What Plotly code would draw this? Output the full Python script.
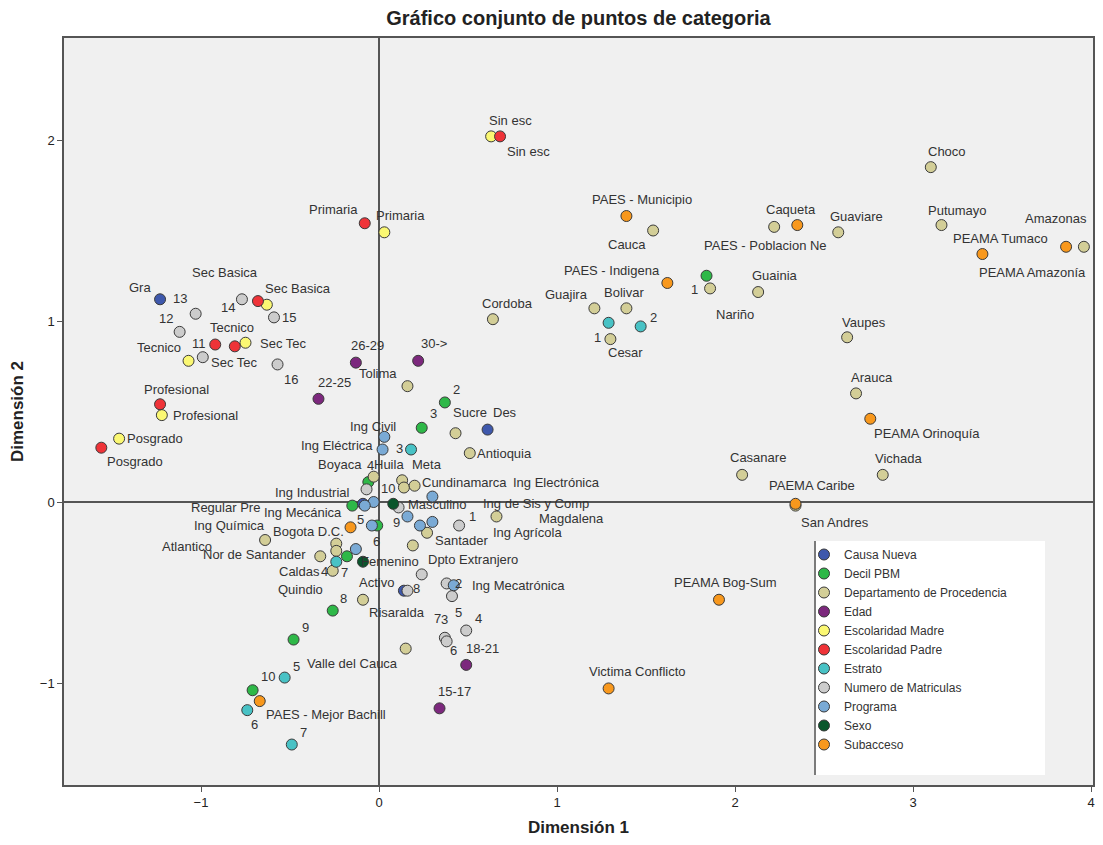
import plotly.graph_objects as go

# ---------------- data (Dimension 1, Dimension 2) ----------------
causa_cat = ["Regular Pre", "Gra", "Des", "Activo"]
causa_d1 = [-0.09, -1.23, 0.61, 0.14]
causa_d2 = [-0.01, 1.12, 0.40, -0.49]

decil_cat = ["1", "2", "3", "4", "5", "6", "7", "8", "9", "10"]
decil_d1 = [1.84, 0.37, 0.24, -0.06, -0.15, -0.01, -0.18, -0.26, -0.48, -0.71]
decil_d2 = [1.25, 0.55, 0.41, 0.11, -0.02, -0.13, -0.30, -0.60, -0.76, -1.04]

dept_cat = ["Choco", "Putumayo", "Amazonas", "Guaviare", "Caqueta", "Guainia", "Nariño",
            "Vaupes", "Arauca", "Vichada", "Casanare", "San Andres", "Cauca", "Bolivar",
            "Guajira", "Cordoba", "Cesar", "Tolima", "Sucre", "Antioquia", "Boyaca", "Huila",
            "Meta", "Cundinamarca", "Santader", "Magdalena", "Dpto Extranjero", "Bogota D.C.",
            "Atlantico", "Nor de Santander", "Caldas", "Quindio", "Risaralda", "Valle del Cauca"]
dept_d1 = [3.10, 3.16, 3.96, 2.58, 2.22, 2.13, 1.86, 2.63, 2.68, 2.83, 2.04, 2.34, 1.54, 1.39,
           1.21, 0.64, 1.30, 0.16, 0.43, 0.51, -0.03, 0.13, 0.14, 0.20, 0.27, 0.66, 0.19, -0.24,
           -0.64, -0.33, -0.26, -0.24, -0.09, 0.15]
dept_d2 = [1.85, 1.53, 1.41, 1.49, 1.52, 1.16, 1.18, 0.91, 0.60, 0.15, 0.15, -0.02, 1.50, 1.07,
           1.07, 1.01, 0.90, 0.64, 0.38, 0.27, 0.14, 0.12, 0.08, 0.09, -0.17, -0.08, -0.24, -0.23,
           -0.21, -0.30, -0.38, -0.27, -0.54, -0.81]

edad_cat = ["15-17", "18-21", "22-25", "26-29", "30->"]
edad_d1 = [0.34, 0.49, -0.34, -0.13, 0.22]
edad_d2 = [-1.14, -0.90, 0.57, 0.77, 0.78]

madre_cat = ["Sin esc", "Primaria", "Sec Basica", "Sec Tec", "Tecnico", "Profesional", "Posgrado"]
madre_d1 = [0.63, 0.03, -0.63, -0.75, -1.07, -1.22, -1.46]
madre_d2 = [2.02, 1.49, 1.09, 0.88, 0.78, 0.48, 0.35]

padre_cat = ["Sin esc", "Primaria", "Sec Basica", "Tecnico", "Sec Tec", "Profesional", "Posgrado"]
padre_d1 = [0.68, -0.08, -0.68, -0.92, -0.81, -1.23, -1.56]
padre_d2 = [2.02, 1.54, 1.11, 0.87, 0.86, 0.54, 0.30]

estrato_cat = ["1", "2", "3", "4", "5", "6", "7"]
estrato_d1 = [1.29, 1.47, 0.18, -0.24, -0.53, -0.74, -0.49]
estrato_d2 = [0.99, 0.97, 0.29, -0.33, -0.97, -1.15, -1.34]

matric_cat = ["1", "2", "3", "4", "5", "6", "7", "8", "9", "10", "11", "12", "13", "14", "15", "16"]
matric_d1 = [0.45, 0.38, 0.37, 0.49, 0.41, 0.38, 0.24, 0.16, 0.11, -0.07, -0.99, -1.12, -1.03,
             -0.77, -0.59, -0.57]
matric_d2 = [-0.13, -0.45, -0.75, -0.71, -0.52, -0.77, -0.40, -0.49, -0.03, 0.07, 0.80, 0.94,
             1.04, 1.12, 1.02, 0.76]

prog_cat = ["Ing Civil", "Ing Eléctrica", "Ing Industrial", "Ing Mecánica", "Ing Química",
            "Ing Electrónica", "Ing de Sis y Comp", "Ing Agrícola", "Ing Mecatrónica", "", ""]
prog_d1 = [0.03, 0.02, -0.03, -0.08, -0.04, 0.30, 0.23, 0.30, 0.42, 0.16, -0.13]
prog_d2 = [0.36, 0.29, 0.00, -0.02, -0.13, 0.03, -0.13, -0.11, -0.46, -0.08, -0.26]

sexo_cat = ["Masculino", "Femenino"]
sexo_d1 = [0.08, -0.09]
sexo_d2 = [-0.01, -0.33]

sub_cat = ["PAES - Municipio", "PAES - Indigena", "PAES - Poblacion Ne", "PAES - Mejor Bachill",
           "PEAMA Tumaco", "PEAMA Amazonía", "PEAMA Orinoquía", "PAEMA Caribe", "PEAMA Bog-Sum",
           "Victima Conflicto", ""]
sub_d1 = [1.39, 1.62, 2.35, -0.67, 3.86, 3.39, 2.76, 2.34, 1.91, 1.29, -0.16]
sub_d2 = [1.58, 1.21, 1.53, -1.10, 1.41, 1.37, 0.46, -0.01, -0.54, -1.03, -0.14]

# ---------------- label offsets in pixels (style): (dx right, dy up) ----------------
causa_off = [(-137, -4), (-20, 12), (17, 17), (-27, 8)]
decil_off = [(-12, -14), (12, 13), (12, 14), (2, 17), (8, -14), (-1, -16), (-2, -16),
             (11, 12), (12, 12), (15, 14)]
dept_off = [(16, 16), (16, 15), (-28, 28), (18, 16), (17, 17), (17, 17), (25, -26),
            (17, 15), (16, 16), (16, 16), (16, 17), (39, -17), (-26, -14), (-2, 16),
            (-28, 14), (15, 16), (15, -13), (-29, 13), (14, 21), (35, 0), (-34, 12),
            (-13, 16), (23, 23), (50, 3), (34, -8), (75, -2), (60, -14), (-28, 12),
            (-78, -6), (-66, 2), (-33, -1), (-36, -39), (34, -13), (-53, -15)]
edad_off = [(15, 17), (16, 16), (16, 16), (12, 17), (16, 17)]
madre_off = [(19, 16), (16, 17), (31, 16), (38, -1), (-30, 13), (44, 0), (36, 0)]
padre_off = [(28, -15), (-31, 14), (-33, 29), (17, 17), (0, -16), (16, 15), (34, -14)]
estrato_off = [(-11, -15), (13, 9), (-12, 1), (-12, -10), (12, 11), (7, -14), (12, 12)]
matric_off = [(13, 9), (12, 0), (0, 18), (12, 12), (7, -16), (7, -9), (16, -44), (9, 2),
              (-2, -15), (21, 1), (-4, 14), (-14, 13), (-16, 15), (-14, -8), (15, 0), (13, -15)]
prog_off = [(-11, 10), (-46, 4), (-61, 10), (-62, -7), (-142, 0), (124, 14), (116, 22),
            (95, -11), (65, 0), (0, 0), (0, 0)]
sexo_off = [(44, -1), (27, 0)]
sub_off = [(16, 17), (-55, 12), (-32, -20), (66, -13), (-66, 8), (50, -18), (57, -15),
           (16, 18), (7, 17), (29, 17), (0, 0)]

groups = [
    ("Causa Nueva", causa_cat, causa_d1, causa_d2, causa_off, "#3E58AC"),
    ("Decil PBM", decil_cat, decil_d1, decil_d2, decil_off, "#2EB848"),
    ("Departamento de Procedencia", dept_cat, dept_d1, dept_d2, dept_off, "#D3CE97"),
    ("Edad", edad_cat, edad_d1, edad_d2, edad_off, "#7C287D"),
    ("Escolaridad Madre", madre_cat, madre_d1, madre_d2, madre_off, "#FBF873"),
    ("Escolaridad Padre", padre_cat, padre_d1, padre_d2, padre_off, "#EF3338"),
    ("Estrato", estrato_cat, estrato_d1, estrato_d2, estrato_off, "#48C2C5"),
    ("Numero de Matriculas", matric_cat, matric_d1, matric_d2, matric_off, "#CCCCCC"),
    ("Programa", prog_cat, prog_d1, prog_d2, prog_off, "#7AAAD5"),
    ("Sexo", sexo_cat, sexo_d1, sexo_d2, sexo_off, "#0A562C"),
    ("Subacceso", sub_cat, sub_d1, sub_d2, sub_off, "#F8981D"),
]

FONT = "Liberation Sans, Arial, sans-serif"

fig = go.Figure()
annotations = []
for name, cats, d1, d2, offs, color in groups:
    fig.add_trace(go.Scatter(
        x=d1, y=d2, mode="markers", name=name, text=cats,
        marker=dict(size=11, color=color, line=dict(width=1, color="#3a3a3a")),
        cliponaxis=False,
    ))
    for c, xv, yv, (dx, dy) in zip(cats, d1, d2, offs):
        if not c:
            continue
        annotations.append(dict(
            x=xv, y=yv, xref="x", yref="y", text=c, showarrow=False,
            xshift=dx, yshift=dy, xanchor="center", yanchor="middle",
            font=dict(family=FONT, size=13, color="#333333"),
        ))

# The page body adds an 8px offset; layout is computed in screen pixels.
OFF = 8
W, H = 1103 - OFF, 845 - 2 * OFF
PL, PR, PT, PB = 64, 1093, 38, 785          # plot frame in screen pixels
X0, XS = 379, 178                            # screen x of Dimension 1 = 0, px per unit
L, R, T, B = PL - OFF, W - (PR - OFF), PT - OFF, H - (PB - OFF)
pw, ph = W - L - R, H - T - B

def px_x(p):
    return (p - OFF - L) / pw

def px_y(p):
    return (H - B - (p - OFF)) / ph

fig.update_layout(
    width=W, height=H,
    margin=dict(l=L, r=R, t=T, b=B, autoexpand=False),
    paper_bgcolor="white",
    plot_bgcolor="#F0F0F0",
    font=dict(family=FONT, size=12, color="#222222"),
    title=dict(text="<b>Gráfico conjunto de puntos de categoria</b>",
               x=0.5, xref="paper", y=1 - (18 - OFF) / H, yref="container", yanchor="middle",
               xanchor="center", font=dict(family=FONT, size=20, color="#222222")),
    showlegend=True,
    legend=dict(x=px_x(804), y=px_y(540), xanchor="left", yanchor="top",
                bgcolor="rgba(0,0,0,0)", font=dict(family=FONT, size=12, color="#333333"),
                tracegroupgap=0, itemclick=False),
    annotations=annotations,
    shapes=[
        dict(type="rect", xref="paper", yref="paper",
             x0=px_x(816), x1=px_x(1045), y0=px_y(775), y1=px_y(541),
             fillcolor="white", line=dict(width=0), layer="above"),
        dict(type="line", xref="paper", yref="paper",
             x0=px_x(815), x1=px_x(815), y0=px_y(775), y1=px_y(541),
             line=dict(color="#555555", width=1.5), layer="above"),
    ],
)

fig.update_xaxes(
    range=[(PL - X0) / XS, (PR - X0) / XS],
    tickvals=[-2, -1, 0, 1, 2, 3, 4],
    ticklabeloverflow="allow",
    automargin=False,
    showgrid=False, zeroline=True, zerolinecolor="#555555", zerolinewidth=1.5,
    showline=True, mirror=True, linecolor="#555555", linewidth=1.5,
    ticks="outside", ticklen=5, tickcolor="#555555",
    tickfont=dict(family=FONT, size=13, color="#222222"),
    title=dict(text="<b>Dimensión 1</b>", standoff=14,
               font=dict(family=FONT, size=17, color="#222222")),
)
fig.update_yaxes(
    range=[(502 - 785) / 181, (502 - 38) / 181],
    tickvals=[-1, 0, 1, 2],
    automargin=False,
    showgrid=False, zeroline=True, zerolinecolor="#555555", zerolinewidth=1.5,
    showline=True, mirror=True, linecolor="#555555", linewidth=1.5,
    ticks="outside", ticklen=5, tickcolor="#555555",
    tickfont=dict(family=FONT, size=13, color="#222222"),
    title=dict(text="<b>Dimensión 2</b>", standoff=12,
               font=dict(family=FONT, size=17, color="#222222")),
)

fig.write_html("out.html")
